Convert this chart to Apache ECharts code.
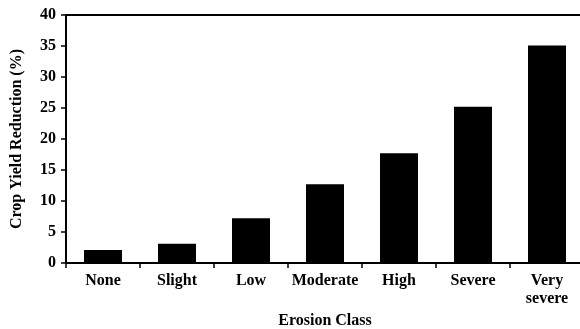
<!DOCTYPE html>
<html><head><meta charset="utf-8">
<script src="https://cdn.jsdelivr.net/npm/echarts@6/dist/echarts.min.js"></script>
<style>html,body{margin:0;padding:0;background:#fff}#c{width:580px;height:329px}</style>
</head><body><div id="c"></div>
<script>
var categories = ['None', 'Slight', 'Low', 'Moderate', 'High', 'Severe', 'Very\nsevere'];
var reduction = [2.1, 3.1, 7.2, 12.7, 17.7, 25.2, 35.1];
var yTicks = [0, 5, 10, 15, 20, 25, 30, 35, 40];
var font = 'Liberation Serif';
var chart = echarts.init(document.getElementById('c'), null, {renderer: 'canvas'});
chart.setOption({
  animation: false,
  backgroundColor: '#fff',
  grid: {left: 66, top: 15, width: 518, bottom: 66, containLabel: false, outerBoundsMode: 'none'},
  xAxis: [{
    type: 'category', data: categories, position: 'bottom',
    name: 'Erosion Class', nameLocation: 'middle', nameGap: 49,
    nameTextStyle: {fontFamily: font, fontWeight: 'bold', fontSize: 16, color: '#000'},
    axisLine: {lineStyle: {color: '#000', width: 2}},
    axisTick: {show: true, length: 5, lineStyle: {color: '#000', width: 1.5}},
    axisLabel: {fontFamily: font, fontWeight: 'bold', fontSize: 16, color: '#000', margin: 9, lineHeight: 18, interval: 0}
  }, {
    type: 'category', data: categories, position: 'top',
    axisLine: {show: true, lineStyle: {color: '#000', width: 2}},
    axisTick: {show: false}, axisLabel: {show: false}
  }],
  yAxis: {
    type: 'value', min: yTicks[0], max: yTicks[yTicks.length - 1], interval: 5,
    name: 'Crop Yield Reduction (%)', nameLocation: 'middle', nameGap: 41,
    nameTextStyle: {fontFamily: font, fontWeight: 'bold', fontSize: 16, color: '#000'},
    axisLine: {show: true, lineStyle: {color: '#000', width: 2}},
    axisTick: {show: true, length: 5, lineStyle: {color: '#000', width: 1.5}},
    axisLabel: {fontFamily: font, fontWeight: 'bold', fontSize: 16, color: '#000', margin: 10},
    splitLine: {show: false}
  },
  series: [{
    type: 'bar', data: reduction, barWidth: 38, xAxisIndex: 0,
    itemStyle: {color: '#000'}
  }]
});
</script></body></html>
